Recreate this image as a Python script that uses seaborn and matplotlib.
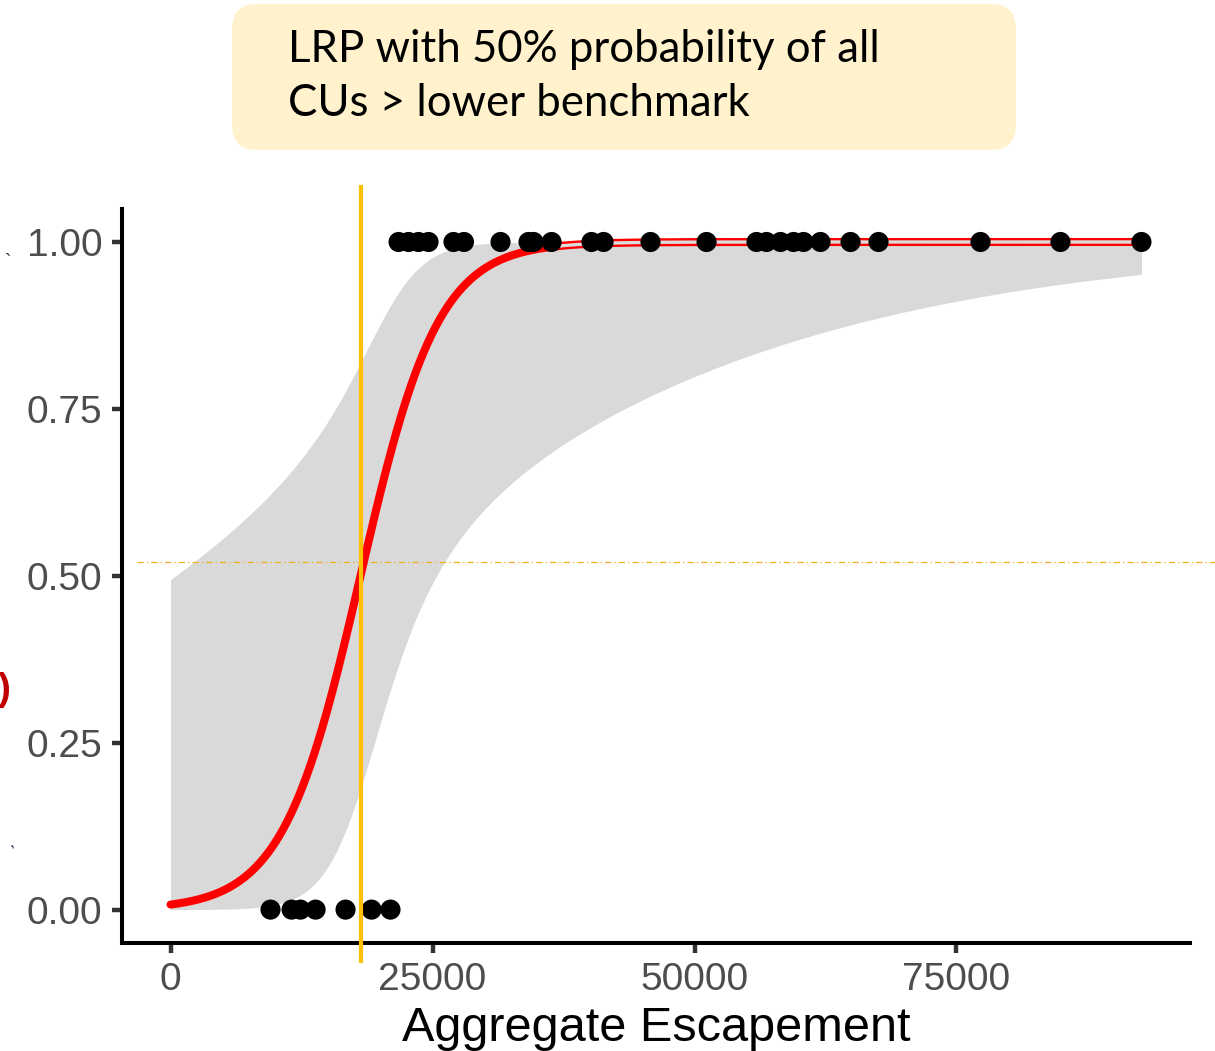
import numpy as np
import pandas as pd
import matplotlib
matplotlib.use("Agg")
import matplotlib.pyplot as plt
import matplotlib.transforms as mtransforms
from matplotlib.patches import FancyBboxPatch
import seaborn as sns

# Aggregate escapement in years when not all CUs were above their lower benchmark (0)
esc_below = [9540, 11550, 12400, 13840, 16700, 19180, 20990]
# ... and in years when all CUs were above their lower benchmark (1)
esc_above = [21760, 22710, 23660, 24620, 27000, 28000, 31490, 34160, 34640, 36360,
             40170, 41320, 45800, 51150, 55920, 56870, 58210, 59450, 60400, 62020,
             64890, 67560, 77290, 84920, 92650]

# Logistic fit on the logit scale: intercept, slope and their covariance
b0, b1 = -4.877, 2.69e-4
v00, v01, v11 = 6.133, -2.815e-4, 1.42e-8
lrp = -b0 / b1
ref_prob = 0.52

x_ticks = [0, 25000, 50000, 75000]
x_tick_labels = ["0", "25000", "50000", "75000"]
y_ticks = [0.0, 0.25, 0.50, 0.75, 1.00]
y_tick_labels = ["0.00", "0.25", "0.50", "0.75", "1.00"]

title_lines = ["LRP with 50% probability of all", "CUs > lower benchmark"]

sns.set_style("ticks")
plt.rcParams["font.family"] = ["Liberation Sans", "DejaVu Sans"]

pts = pd.DataFrame({
    "Escapement": esc_below + esc_above,
    "AllAbove": [0] * len(esc_below) + [1] * len(esc_above),
})

grid = np.linspace(0, max(esc_above), 500)
eta = b0 + b1 * grid
se = np.sqrt(v00 + 2 * grid * v01 + grid ** 2 * v11)
expit = lambda z: 1.0 / (1.0 + np.exp(-z))
fit = pd.DataFrame({
    "Escapement": grid,
    "Prob": expit(eta),
    "Lower": expit(eta - 1.96 * se),
    "Upper": expit(eta + 1.96 * se),
})

fig = plt.figure(figsize=(12.15, 10.51), dpi=100)
ax = fig.add_axes([122 / 1215, 1 - 943 / 1051, (1190 - 122) / 1215, (943 - 208.6) / 1051])

ax.fill_between(fit["Escapement"], fit["Lower"], fit["Upper"],
                color="#d9d9d9", lw=0, zorder=1)
sns.lineplot(data=fit, x="Escapement", y="Prob", color="#ff0000", lw=5.8,
             ax=ax, zorder=3)
flat = fit[fit["Prob"] >= 0.993]
ax.plot(flat["Escapement"], flat["Prob"], color="#dcdcdc", lw=2.4, zorder=3.5,
        solid_capstyle="butt")
sns.scatterplot(data=pts, x="Escapement", y="AllAbove", color="black", s=210,
                edgecolor="none", ax=ax, zorder=5)

# LRP marker and reference probability
ax.plot([lrp, lrp], [-0.027, 1.032], color="#ffc000", lw=3.0, clip_on=False,
        transform=mtransforms.blended_transform_factory(ax.transData, ax.transAxes),
        zorder=6, solid_capstyle="butt")
ax.plot([137 / 1215, 1.0], [ref_prob, ref_prob], color="#f0b020", lw=0.9,
        linestyle=(0, (5, 2.5, 1, 2.5)), clip_on=False,
        transform=mtransforms.blended_transform_factory(fig.transFigure, ax.transData),
        zorder=2)

xmax = max(esc_above)
ax.set_xlim(-0.05 * xmax, 1.05 * xmax)
ax.set_ylim(-0.05, 1.05)
ax.set_xticks(x_ticks)
ax.set_xticklabels(x_tick_labels)
ax.set_yticks(y_ticks)
ax.set_yticklabels(y_tick_labels)
ax.tick_params(axis="x", labelsize=28, colors="#333333", labelcolor="#4d4d4d",
               length=7, width=3.2, pad=6.5)
ax.tick_params(axis="y", labelsize=28, colors="#333333", labelcolor="#4d4d4d",
               length=7, width=3.2, pad=7)
ax.set_xlabel("Aggregate Escapement", fontsize=35, color="black", labelpad=6)
ax.set_ylabel("")
sns.despine(ax=ax)
for side in ("left", "bottom"):
    ax.spines[side].set_linewidth(2.9)
    ax.spines[side].set_color("black")

# Heading box
box = FancyBboxPatch((2.32, (1051 - 150) / 100), 7.84, 1.46,
                     boxstyle="round,pad=0,rounding_size=0.25",
                     transform=fig.dpi_scale_trans, facecolor="#fff2cc",
                     edgecolor="none", zorder=0)
fig.add_artist(box)
for i, line in enumerate(title_lines):
    fig.text(288 / 1215, 1 - (62 + 54 * i) / 1051, line, fontsize=31.5,
             family=["Lato", "DejaVu Sans"], va="baseline", ha="left", color="black")

# Cut-off edge of the y-axis title
fig.text(-0.002, 1 - 690 / 1051, ")", fontsize=28, color="#c00000",
         fontweight="bold", va="center", ha="left")
fig.text(0.004, 1 - 262 / 1051, "`", fontsize=14, color="#1f2f50",
         va="center", ha="left")
fig.text(0.004, 1 - 842 / 1051, ",", fontsize=12, color="#1f2f50",
         va="center", ha="left", rotation=30)

fig.savefig("out.png", dpi=100)
